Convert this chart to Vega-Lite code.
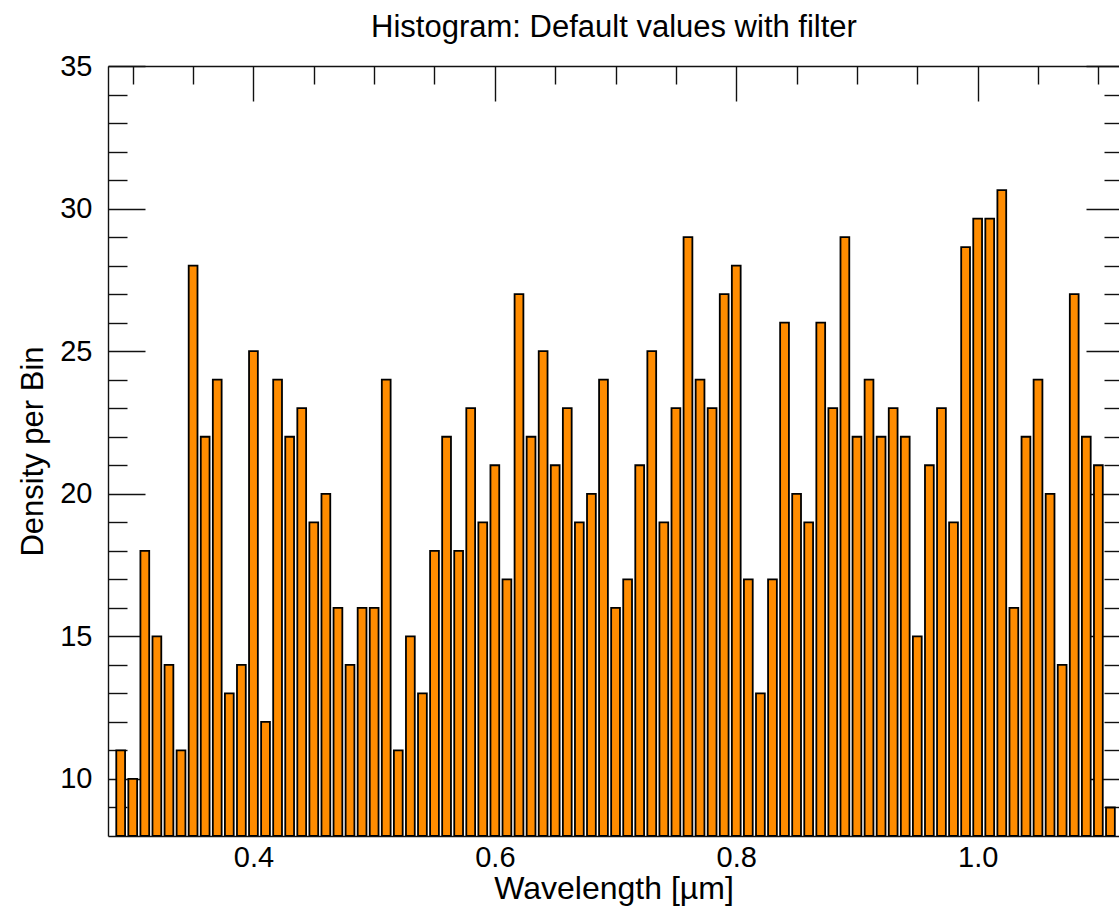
{
  "$schema": "https://vega.github.io/schema/vega-lite/v6.json",
  "width": 1011,
  "height": 770,
  "autosize": {"type": "none"},
  "padding": {"left": 108, "top": 66, "right": 0, "bottom": 75},
  "background": "white",
  "config": {
    "view": {"stroke": null},
    "font": "Liberation Sans",
    "axis": {"domainColor": "#111", "tickColor": "#111", "domainWidth": 1.4, "tickWidth": 1.4, "labelColor": "black", "titleColor": "black", "grid": false, "zindex": 1, "labelFont": "Liberation Sans", "titleFont": "Liberation Sans"}
  },
  "data": {"values": [
    {"wavelength": 0.29, "density": 11}, {"wavelength": 0.30, "density": 10}, {"wavelength": 0.31, "density": 18}, {"wavelength": 0.32, "density": 15},
    {"wavelength": 0.33, "density": 14}, {"wavelength": 0.34, "density": 11}, {"wavelength": 0.35, "density": 28}, {"wavelength": 0.36, "density": 22},
    {"wavelength": 0.37, "density": 24}, {"wavelength": 0.38, "density": 13}, {"wavelength": 0.39, "density": 14}, {"wavelength": 0.40, "density": 25},
    {"wavelength": 0.41, "density": 12}, {"wavelength": 0.42, "density": 24}, {"wavelength": 0.43, "density": 22}, {"wavelength": 0.44, "density": 23},
    {"wavelength": 0.45, "density": 19}, {"wavelength": 0.46, "density": 20}, {"wavelength": 0.47, "density": 16}, {"wavelength": 0.48, "density": 14},
    {"wavelength": 0.49, "density": 16}, {"wavelength": 0.50, "density": 16}, {"wavelength": 0.51, "density": 24}, {"wavelength": 0.52, "density": 11},
    {"wavelength": 0.53, "density": 15}, {"wavelength": 0.54, "density": 13}, {"wavelength": 0.55, "density": 18}, {"wavelength": 0.56, "density": 22},
    {"wavelength": 0.57, "density": 18}, {"wavelength": 0.58, "density": 23}, {"wavelength": 0.59, "density": 19}, {"wavelength": 0.60, "density": 21},
    {"wavelength": 0.61, "density": 17}, {"wavelength": 0.62, "density": 27}, {"wavelength": 0.63, "density": 22}, {"wavelength": 0.64, "density": 25},
    {"wavelength": 0.65, "density": 21}, {"wavelength": 0.66, "density": 23}, {"wavelength": 0.67, "density": 19}, {"wavelength": 0.68, "density": 20},
    {"wavelength": 0.69, "density": 24}, {"wavelength": 0.70, "density": 16}, {"wavelength": 0.71, "density": 17}, {"wavelength": 0.72, "density": 21},
    {"wavelength": 0.73, "density": 25}, {"wavelength": 0.74, "density": 19}, {"wavelength": 0.75, "density": 23}, {"wavelength": 0.76, "density": 29},
    {"wavelength": 0.77, "density": 24}, {"wavelength": 0.78, "density": 23}, {"wavelength": 0.79, "density": 27}, {"wavelength": 0.80, "density": 28},
    {"wavelength": 0.81, "density": 17}, {"wavelength": 0.82, "density": 13}, {"wavelength": 0.83, "density": 17}, {"wavelength": 0.84, "density": 26},
    {"wavelength": 0.85, "density": 20}, {"wavelength": 0.86, "density": 19}, {"wavelength": 0.87, "density": 26}, {"wavelength": 0.88, "density": 23},
    {"wavelength": 0.89, "density": 29}, {"wavelength": 0.90, "density": 22}, {"wavelength": 0.91, "density": 24}, {"wavelength": 0.92, "density": 22},
    {"wavelength": 0.93, "density": 23}, {"wavelength": 0.94, "density": 22}, {"wavelength": 0.95, "density": 15}, {"wavelength": 0.96, "density": 21},
    {"wavelength": 0.97, "density": 23}, {"wavelength": 0.98, "density": 19}, {"wavelength": 0.99, "density": 28.65}, {"wavelength": 1.00, "density": 29.65},
    {"wavelength": 1.01, "density": 29.65}, {"wavelength": 1.02, "density": 30.65}, {"wavelength": 1.03, "density": 16}, {"wavelength": 1.04, "density": 22},
    {"wavelength": 1.05, "density": 24}, {"wavelength": 1.06, "density": 20}, {"wavelength": 1.07, "density": 14}, {"wavelength": 1.08, "density": 27},
    {"wavelength": 1.09, "density": 22}, {"wavelength": 1.10, "density": 21}, {"wavelength": 1.11, "density": 9}
  ]},
  "layer": [
    {
      "mark": {"type": "bar", "width": 8.8, "fill": "#ff8c00", "stroke": "#000", "strokeWidth": 1.8, "clip": true},
      "encoding": {
        "x": {"field": "wavelength", "type": "quantitative", "scale": {"domain": [0.2795, 1.1171], "nice": false, "zero": false, "padding": 0},
              "axis": {"orient": "bottom", "values": [0.4, 0.6, 0.8, 1.0], "format": ".1f", "ticks": false, "domain": true, "labelFontSize": 29, "labelPadding": 7, "title": "Wavelength [µm]", "titleFontSize": 32, "titleFontWeight": "normal", "titlePadding": 1}},
        "y": {"field": "density", "type": "quantitative", "scale": {"domain": [8, 35], "nice": false, "zero": false, "padding": 0},
              "axis": {"orient": "left", "values": [10, 15, 20, 25, 30, 35], "ticks": false, "domain": true, "labelFontSize": 29, "labelPadding": 16, "title": "Density per Bin", "titleFontSize": 31, "titleFontWeight": "normal", "titlePadding": 10}},
        "y2": {"datum": 8}
      }
    },
    {
      "mark": {"type": "bar", "width": 8.8, "opacity": 0},
      "encoding": {
        "x": {"field": "wavelength", "type": "quantitative", "axis": {"orient": "bottom", "values": [0.4, 0.6, 0.8, 1.0], "tickSize": -35, "labels": false, "domain": false, "title": null}},
        "y": {"field": "density", "type": "quantitative", "axis": {"orient": "left", "values": [10, 15, 20, 25, 30, 35], "tickSize": -37, "labels": false, "domain": false, "title": null}},
        "y2": {"datum": 8}
      }
    },
    {
      "mark": {"type": "bar", "width": 8.8, "opacity": 0},
      "encoding": {
        "x": {"field": "wavelength", "type": "quantitative", "axis": {"orient": "bottom", "values": [0.3, 0.35, 0.45, 0.5, 0.55, 0.65, 0.7, 0.75, 0.85, 0.9, 0.95, 1.05, 1.1], "tickSize": -18, "labels": false, "domain": false, "title": null}},
        "y": {"field": "density", "type": "quantitative", "axis": {"orient": "left", "values": [9, 11, 12, 13, 14, 16, 17, 18, 19, 21, 22, 23, 24, 26, 27, 28, 29, 31, 32, 33, 34], "tickSize": -19, "labels": false, "domain": false, "title": null}},
        "y2": {"datum": 8}
      }
    },
    {
      "mark": {"type": "bar", "width": 8.8, "opacity": 0},
      "encoding": {
        "x": {"field": "wavelength", "type": "quantitative", "axis": {"orient": "top", "values": [0.4, 0.6, 0.8, 1.0], "tickSize": -35, "labels": false, "domain": true, "title": "Histogram: Default values with filter", "titleFontSize": 31, "titleFontWeight": "normal", "titleBaseline": "alphabetic", "titlePadding": 29}},
        "y": {"field": "density", "type": "quantitative", "axis": {"orient": "right", "offset": 4, "values": [10, 15, 20, 25, 30, 35], "tickSize": -37, "labels": false, "domain": true, "title": null}},
        "y2": {"datum": 8}
      }
    },
    {
      "mark": {"type": "bar", "width": 8.8, "opacity": 0},
      "encoding": {
        "x": {"field": "wavelength", "type": "quantitative", "axis": {"orient": "top", "values": [0.3, 0.35, 0.45, 0.5, 0.55, 0.65, 0.7, 0.75, 0.85, 0.9, 0.95, 1.05, 1.1], "tickSize": -18, "labels": false, "domain": false, "title": null}},
        "y": {"field": "density", "type": "quantitative", "axis": {"orient": "right", "offset": 4, "values": [9, 11, 12, 13, 14, 16, 17, 18, 19, 21, 22, 23, 24, 26, 27, 28, 29, 31, 32, 33, 34], "tickSize": -19, "labels": false, "domain": false, "title": null}},
        "y2": {"datum": 8}
      }
    }
  ],
  "resolve": {"axis": {"x": "independent", "y": "independent"}}
}
